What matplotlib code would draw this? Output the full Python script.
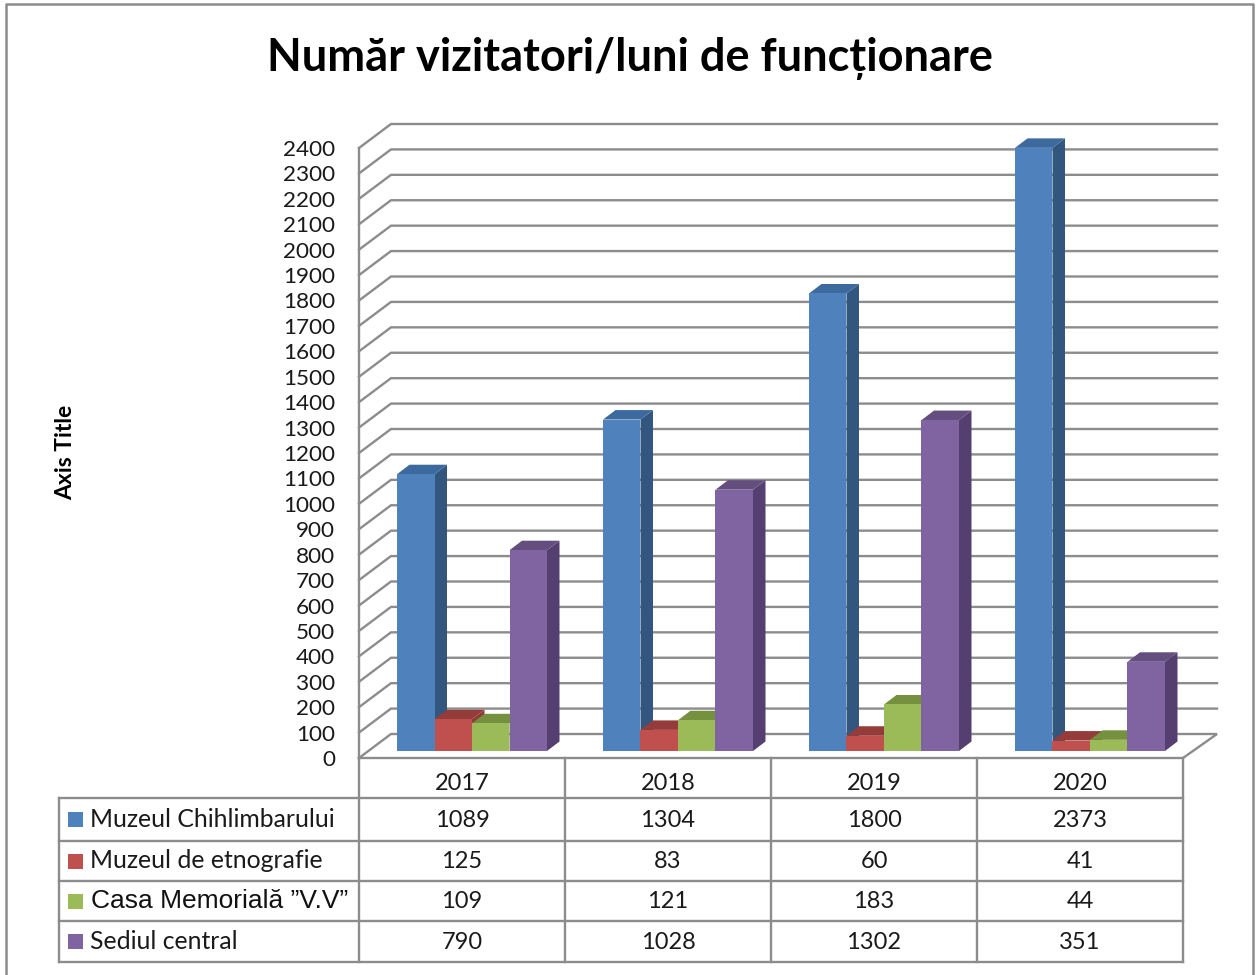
import matplotlib

matplotlib.use("Agg")
from matplotlib import pyplot as plt
from matplotlib.patches import Rectangle

years = ["2017", "2018", "2019", "2020"]
series_names = ["Muzeul Chihlimbarului", "Muzeul de etnografie", "Casa Memorială ”V.V”", "Sediul central"]
chihlimbar = [1089, 1304, 1800, 2373]
etnografie = [125, 83, 60, 41]
casa = [109, 121, 183, 44]
sediu = [790, 1028, 1302, 351]
y_ticks = list(range(0, 2401, 100))

front_colors = ["#4F81BD", "#C0504D", "#9BBB59", "#8064A2"]
side_colors = ["#33567F", "#8E3A38", "#75903F", "#553F70"]
top_colors = ["#3D6A9E", "#943C3A", "#75903F", "#644E80"]

LINE = "#8c8c8c"
LW = 1.7
W, H = 1257, 975
FONT = ["Lato", "DejaVu Sans"]
plt.rcParams["font.family"] = FONT

# plot box in pixels (front of the floor / front of the value axis)
LEFT, RIGHT, BOTTOM, TOP = 359, 1183, 758, 148
GROUP_W = (RIGHT - LEFT) / len(years)
PX_PER_UNIT = (BOTTOM - TOP) / 2400

fig = plt.figure(figsize=(W / 100, H / 100), dpi=100, facecolor="white")

# overlay in pixel coords for frame and data table
page = fig.add_axes([0, 0, 1, 1], zorder=3)
page.set_xlim(0, W)
page.set_ylim(H, 0)
page.axis("off")
page.patch.set_alpha(0)

ax = fig.add_axes([LEFT / W, (H - BOTTOM) / H, (RIGHT - LEFT) / W, (BOTTOM - TOP) / H], zorder=2)
ax.patch.set_alpha(0)
ax.set_xlim(0, len(years))
ax.set_ylim(0, 2400)
for s in ax.spines.values():
    s.set_visible(False)
ax.set_xticks([])
ax.set_yticks(y_ticks)
ax.set_yticklabels([str(t) for t in y_ticks], fontsize=16.2, color="#1a1a1a")
ax.tick_params(axis="y", length=0, pad=17.3)


def dx(px):
    return px / GROUP_W


def dy(px):
    return px / PX_PER_UNIT


# side wall and back wall grid lines
for t in y_ticks:
    xs = [0, dx(32), len(years) + dx(34)]
    ys = [t, t + dy(24), t + dy(24)]
    if t == 0:
        xs.append(len(years))
        ys.append(0)
    ax.plot(xs, ys, color=LINE, lw=LW, clip_on=False, zorder=1, solid_joinstyle="miter")
ax.plot([0, 0], [0, 2400], color=LINE, lw=LW, clip_on=False, zorder=1)
ax.plot([0, len(years)], [0, 0], color=LINE, lw=LW, clip_on=False, zorder=1)

# bars, left to right so each one covers the side of the one before
BAR_W = dx(37.5)
BAR_START = dx(38)
LIFT = dy(7)
DEPTH_X = dx(12.5)
DEPTH_Y = dy(9.5)
all_series = [chihlimbar, etnografie, casa, sediu]
z = 5
for g in range(len(years)):
    for i, values in enumerate(all_series):
        v = values[g]
        x0 = g + BAR_START + i * BAR_W
        x1 = x0 + BAR_W
        y0 = LIFT
        y1 = LIFT + v
        ax.fill([x1, x1 + DEPTH_X, x1 + DEPTH_X, x1], [y0, y0 + DEPTH_Y, y1 + DEPTH_Y, y1],
                color=side_colors[i], lw=0, clip_on=False, zorder=z)
        ax.fill([x0, x0 + DEPTH_X, x1 + DEPTH_X, x1], [y1, y1 + DEPTH_Y, y1 + DEPTH_Y, y1],
                color=top_colors[i], lw=0, clip_on=False, zorder=z)
        ax.bar(x0, v, width=BAR_W, bottom=LIFT, align="edge", color=front_colors[i], lw=0, clip_on=False, zorder=z + 1)
        z += 2

# outer frame (open at the bottom, cut by the crop)
page.plot([6, 6, 1253, 1253], [H, 4, 4, H], color=LINE, lw=1.8)

page.text(630, 59, "Număr vizitatori/luni de funcționare", ha="center", va="center",
          fontsize=32.5, fontweight="bold", color="black", family=FONT)
page.text(66, 452, "Axis Title", rotation=90, ha="center", va="center",
          fontsize=16.5, fontweight="bold", color="black", family=FONT)

# data table
col_x = [LEFT + GROUP_W * k for k in range(len(years) + 1)]
row_y = [798, 841, 881, 921, 962]
for x in col_x:
    page.plot([x, x], [BOTTOM, row_y[-1]], color=LINE, lw=LW)
page.plot([59, 59], [row_y[0], row_y[-1]], color=LINE, lw=LW)
for y in row_y:
    page.plot([59, RIGHT], [y, y], color=LINE, lw=LW)

for g, year in enumerate(years):
    cx = LEFT + GROUP_W * (g + 0.5)
    page.text(cx, 783, year, ha="center", va="center", fontsize=17, color="#1a1a1a")
    for r, values in enumerate(all_series):
        page.text(cx, (row_y[r] + row_y[r + 1]) / 2 + 1, str(values[g]), ha="center", va="center",
                  fontsize=17, color="#1a1a1a")

for r, name in enumerate(series_names):
    cy = (row_y[r] + row_y[r + 1]) / 2
    page.add_patch(Rectangle((68, cy - 7.5), 15, 15, facecolor=front_colors[r], edgecolor="none"))
    if r == 2:
        page.text(91, cy, name, ha="left", va="center", fontsize=19, color="#111111",
                  family=["Liberation Sans"])
    else:
        page.text(90, cy, name, ha="left", va="center", fontsize=17.8, color="#1a1a1a")

fig.savefig("out.png", dpi=100, facecolor="white")
